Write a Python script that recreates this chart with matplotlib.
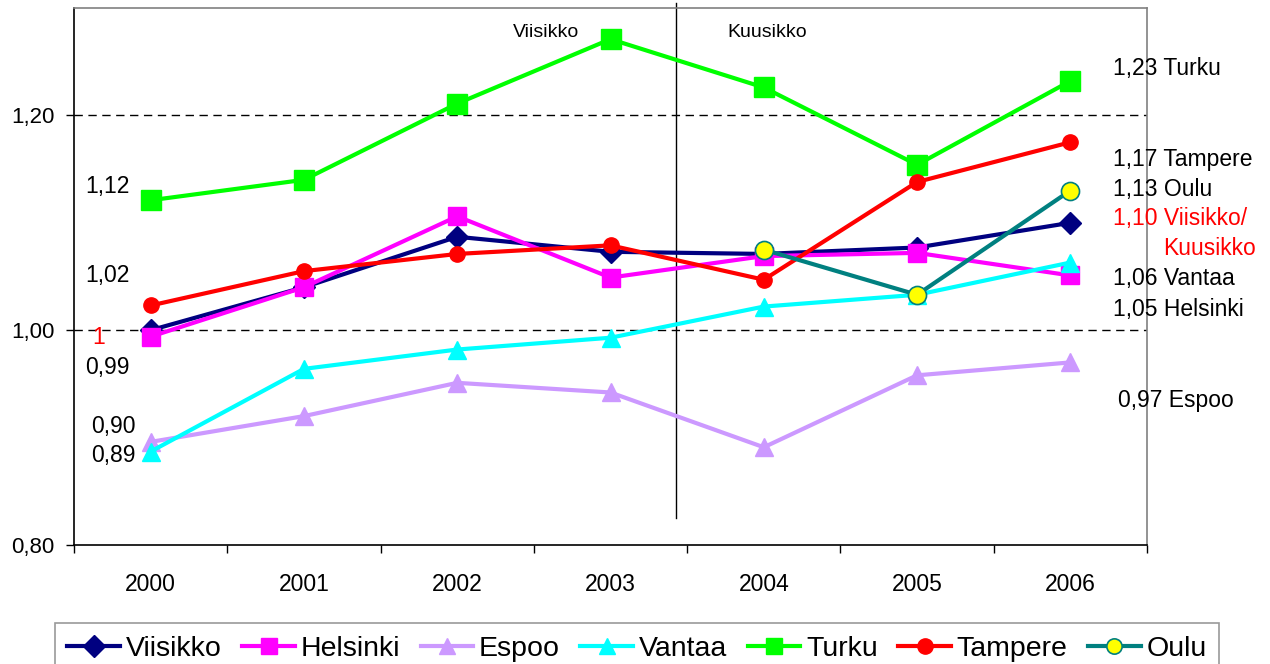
import numpy as np
import matplotlib
matplotlib.use("Agg")
import matplotlib.pyplot as plt

plt.rcParams['font.family'] = ['Liberation Sans', 'DejaVu Sans']

years = ['2000', '2001', '2002', '2003', '2004', '2005', '2006']
series_names = ['Viisikko', 'Helsinki', 'Espoo', 'Vantaa', 'Turku', 'Tampere', 'Oulu']
viisikko = [1.000, 1.040, 1.087, 1.073, 1.071, 1.077, 1.100]
helsinki = [0.994, 1.040, 1.106, 1.049, 1.069, 1.072, 1.051]
espoo = [0.896, 0.920, 0.951, 0.942, 0.891, 0.958, 0.970]
vantaa = [0.887, 0.964, 0.982, 0.993, 1.022, 1.033, 1.063]
turku = [1.121, 1.140, 1.211, 1.271, 1.226, 1.154, 1.232]
tampere = [1.023, 1.055, 1.071, 1.079, 1.047, 1.138, 1.175]
oulu = [np.nan, np.nan, np.nan, np.nan, 1.075, 1.033, 1.130]

left_labels = ['1,12', '1,02', '1', '0,99', '0,90', '0,89']
right_labels = ['1,23 Turku', '1,17 Tampere', '1,13 Oulu', '1,10 Viisikko/', 'Kuusikko',
                '1,06 Vantaa', '1,05 Helsinki', '0,97 Espoo']
period_labels = ['Viisikko', 'Kuusikko']

W, H = 1270, 664
fig = plt.figure(figsize=(W / 100, H / 100), dpi=100)
ax = fig.add_axes([74 / W, 1 - 545 / H, (1147 - 74) / W, (545 - 8) / H])

x = np.arange(len(years))
styles = [
    dict(color='#000080', marker='D', ms=11, mfc='#000080', mec='#000080'),
    dict(color='#FF00FF', marker='s', ms=13, mfc='#FF00FF', mec='#FF00FF'),
    dict(color='#CC99FF', marker='^', ms=13, mfc='#CC99FF', mec='#CC99FF'),
    dict(color='#00FFFF', marker='^', ms=13, mfc='#00FFFF', mec='#00FFFF'),
    dict(color='#00FF00', marker='s', ms=14, mfc='#00FF00', mec='#00FF00'),
    dict(color='#FF0000', marker='o', ms=11, mfc='#FF0000', mec='#FF0000'),
    dict(color='#008080', marker='o', ms=13, mfc='#FFFF00', mec='#008080', mew=1.2),
]
data = [viisikko, helsinki, espoo, vantaa, turku, tampere, oulu]
for name, vals, st in zip(series_names, data, styles):
    ax.plot(x, vals, lw=3, label=name, clip_on=False, **st)

ax.set_xlim(-0.5, 6.5)
ax.set_ylim(0.8, 1.3)

# x ticks: marks at boundaries, labels at centres
ax.set_xticks(np.arange(-0.5, 7.0, 1.0))
ax.set_xticklabels([])
ax.set_xticks(x, minor=True)
ax.set_xticklabels(years, minor=True, fontsize=16.5)
ax.tick_params(axis='x', which='major', direction='out', length=6, width=1, color='black')
ax.tick_params(axis='x', which='minor', length=0, pad=20)

ax.set_yticks([0.8, 1.0, 1.2])
ax.set_yticklabels(['0,80', '1,00', '1,20'], fontsize=16)
ax.tick_params(axis='y', direction='out', length=6, width=1, pad=8)

for yv in [1.0, 1.2]:
    ax.axhline(yv, color='black', lw=1, ls=(0, (6, 4)), zorder=0.5)

for side in ['left', 'bottom']:
    ax.spines[side].set_color('black')
    ax.spines[side].set_linewidth(1.2)
for side in ['top', 'right']:
    ax.spines[side].set_color('#808080')
    ax.spines[side].set_linewidth(1.2)

# vertical separator
ax.plot([3.43, 3.43], [0.825, 1.305], color='black', lw=1, clip_on=False, zorder=1)
ax.text(2.58, 1.277, period_labels[0], ha='center', va='center', fontsize=14)
ax.text(4.02, 1.277, period_labels[1], ha='center', va='center', fontsize=14)

# left value labels
left_pos = [(-0.137, 1.134), (-0.137, 1.051), (-0.30, 0.9935), (-0.137, 0.9656),
            (-0.10, 0.910), (-0.10, 0.883)]
for lab, (lx, ly) in zip(left_labels, left_pos):
    col = 'red' if lab == '1' else 'black'
    ax.text(lx, ly, lab, ha='right', va='center', fontsize=16.5, color=col, clip_on=False)

# right value labels
right_pos = [(6.28, 1.2437, 'left'), (6.28, 1.159, 'left'), (6.28, 1.131, 'left'),
             (6.28, 1.104, 'left'), (7.21, 1.076, 'right'), (6.28, 1.048, 'left'),
             (6.28, 1.0195, 'left'), (6.31, 0.935, 'left')]
for lab, (lx, ly, ha) in zip(right_labels, right_pos):
    col = 'red' if ('Viisikko' in lab or lab == 'Kuusikko') else 'black'
    ax.text(lx, ly, lab, ha=ha, va='center', fontsize=16.5, color=col, clip_on=False)

leg = fig.legend(loc='upper center', bbox_to_anchor=(637 / W, 1 - 623 / H), ncol=7,
                 fontsize=20.5, frameon=True, fancybox=False, handlelength=1.85,
                 handletextpad=0.2, columnspacing=0.72, borderpad=0.45,
                 borderaxespad=0)
leg.get_frame().set_edgecolor('#808080')
leg.get_frame().set_linewidth(1.2)
for h in leg.legend_handles:
    h.set_markersize(11)

fig.savefig('out.png', dpi=100)
